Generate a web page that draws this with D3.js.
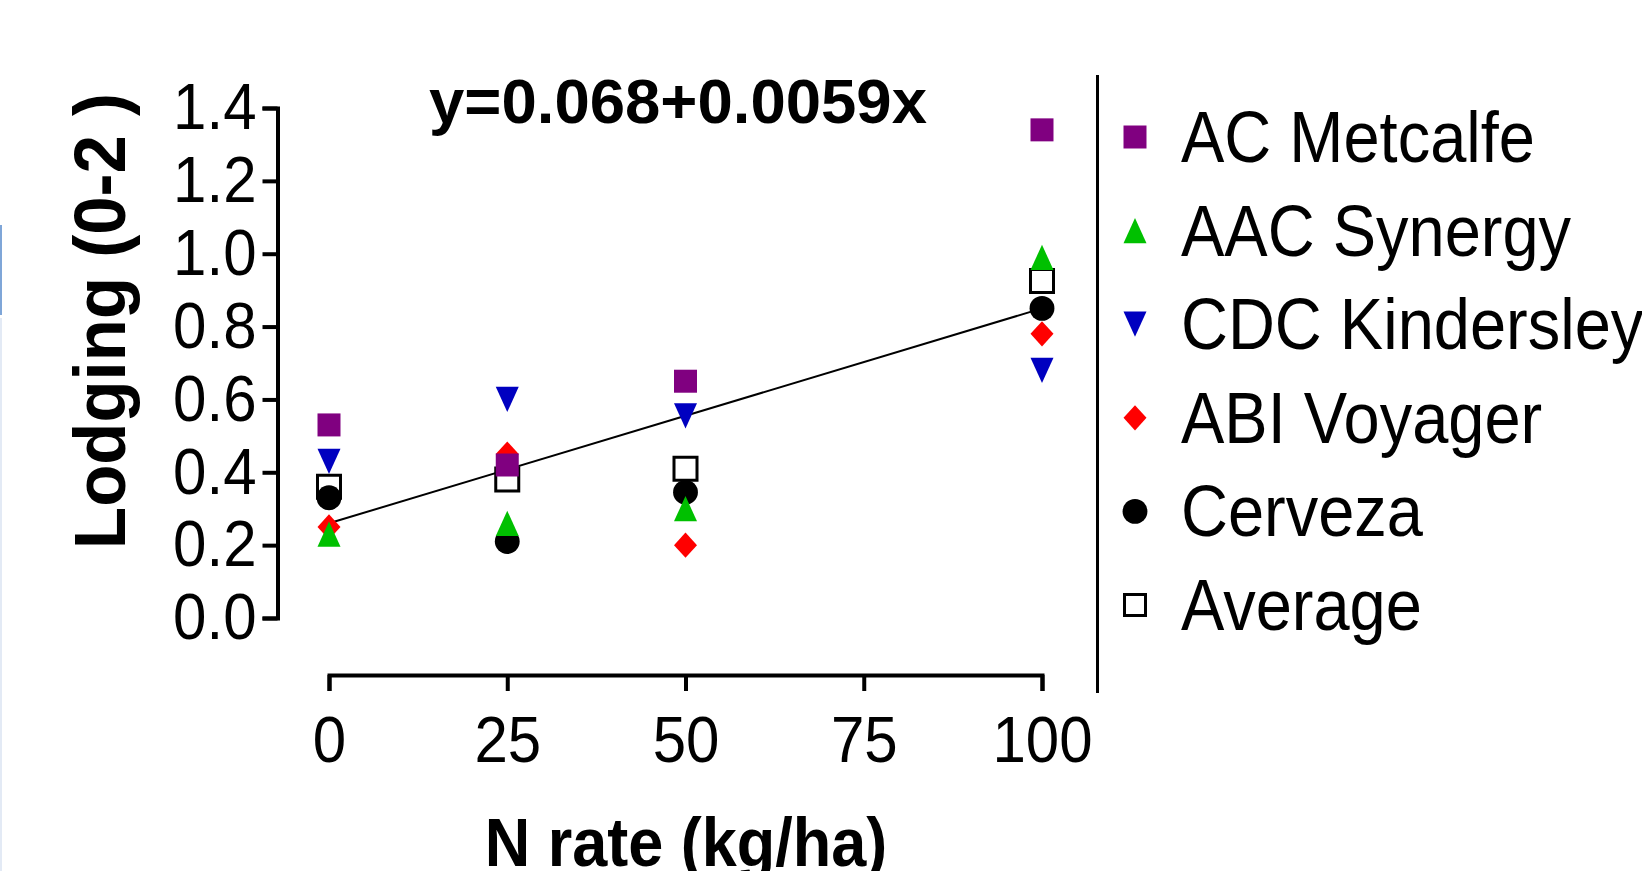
<!DOCTYPE html>
<html>
<head>
<meta charset="utf-8">
<script src="https://cdn.jsdelivr.net/npm/d3@7"></script>
<style>
  html, body { margin: 0; padding: 0; background: #fff; overflow: hidden; }
  svg { display: block; font-family: "Liberation Sans", Arial, sans-serif; }
</style>
</head>
<body>
<svg width="1642" height="871"></svg>
<script>
"use strict";

// N rate (kg/ha)
const nRates = [0, 25, 50, 100];
const xTicks = [0, 25, 50, 75, 100];
const yTicks = [0, 0.2, 0.4, 0.6, 0.8, 1.0, 1.2, 1.4];

// lodging score
const acMetcalfe = [0.53, 0.42, 0.65, 1.34];
const aacSynergy = [0.23, 0.26, 0.30, 0.99];
const cdcKindersley = [0.43, 0.60, 0.555, 0.68];
const abiVoyager = [0.25, 0.45, 0.20, 0.78];
const cerveza = [0.33, 0.21, 0.345, 0.85];
const average = [0.36, 0.38, 0.41, 0.925];

// fitted line ends
const fitLine = [{x: 0, y: 0.26}, {x: 100, y: 0.85}];
const fitLabel = 'y=0.068+0.0059x';

// custom marker shapes, size = width in px
const shapes = {
    square: {draw(ctx, s) { const h = s / 2; ctx.rect(-h, -h, s, s); }},
    up: {draw(ctx, s) { const h = s / 2, v = s * 0.55; ctx.moveTo(0, -v); ctx.lineTo(h, v); ctx.lineTo(-h, v); ctx.closePath(); }},
    down: {draw(ctx, s) { const h = s / 2, v = s * 0.55; ctx.moveTo(0, v); ctx.lineTo(h, -v); ctx.lineTo(-h, -v); ctx.closePath(); }},
    diamond: {draw(ctx, s) { const h = s / 2, v = s * 0.55; ctx.moveTo(0, -v); ctx.lineTo(h, 0); ctx.lineTo(0, v); ctx.lineTo(-h, 0); ctx.closePath(); }},
    circle: {draw(ctx, s) { const r = s * 0.54; ctx.moveTo(r, 0); ctx.arc(0, 0, r, 0, 2 * Math.PI); }}
};

const series = [
    {name: 'AC Metcalfe', values: acMetcalfe, shape: 'square', fill: '#800080', stroke: 'none'},
    {name: 'AAC Synergy', values: aacSynergy, shape: 'up', fill: '#00c000', stroke: 'none'},
    {name: 'CDC Kindersley', values: cdcKindersley, shape: 'down', fill: '#0000c0', stroke: 'none'},
    {name: 'ABI Voyager', values: abiVoyager, shape: 'diamond', fill: '#ff0000', stroke: 'none'},
    {name: 'Cerveza', values: cerveza, shape: 'circle', fill: '#000', stroke: 'none'},
    {name: 'Average', values: average, shape: 'square', fill: '#fff', stroke: '#000'}
];

const svg = d3.select('svg');
const stretch = 1.08;

// faint selection edge on the left
svg.append('rect').attr('x', 0).attr('y', 225).attr('width', 2).attr('height', 90).attr('fill', '#7fa6d8');
svg.append('rect').attr('x', 0).attr('y', 318).attr('width', 2).attr('height', 553).attr('fill', '#e3eaf5');

const x = d3.scaleLinear().domain([0, 100]).range([329, 1042]);
const y = d3.scaleLinear().domain([0, 1.4]).range([618, 108]);

// y axis
const yAxis = svg.append('g')
    .attr('transform', 'translate(277.5,0)')
    .call(d3.axisLeft(y).tickValues(yTicks).tickFormat(d3.format('.1f')).tickSize(15).tickPadding(6));
yAxis.select('.domain').attr('stroke-width', 4);
yAxis.selectAll('.tick line').attr('stroke-width', 4);
yAxis.selectAll('text')
    .attr('font-size', 60)
    .attr('fill', '#000')
    .attr('transform', `scale(1,${stretch})`);

// x axis, sits below the plot
const xAxis = svg.append('g')
    .attr('transform', 'translate(0,675)')
    .call(d3.axisBottom(x).tickValues(xTicks).tickSize(16).tickPadding(22));
xAxis.select('.domain').attr('stroke-width', 4);
xAxis.selectAll('.tick line').attr('stroke-width', 4);
xAxis.selectAll('text')
    .attr('font-size', 60)
    .attr('fill', '#000')
    .attr('transform', `scale(1,${stretch})`);

// axis titles
svg.append('text')
    .attr('transform', `translate(125,321) rotate(-90) scale(1,1.04)`)
    .attr('text-anchor', 'middle')
    .attr('font-size', 69)
    .attr('font-weight', 'bold')
    .text('Lodging (0-2 )');

svg.append('text')
    .attr('transform', `translate(686,866) scale(1,${stretch})`)
    .attr('text-anchor', 'middle')
    .attr('font-size', 63)
    .attr('font-weight', 'bold')
    .text('N rate (kg/ha)');

svg.append('text')
    .attr('x', 678)
    .attr('y', 123)
    .attr('text-anchor', 'middle')
    .attr('font-size', 63.5)
    .attr('font-weight', 'bold')
    .text(fitLabel);

// regression line
svg.append('path')
    .datum(fitLine)
    .attr('fill', 'none')
    .attr('stroke', '#000')
    .attr('stroke-width', 2)
    .attr('d', d3.line().x(d => x(d.x)).y(d => y(d.y)));

const sym = d3.symbol().size(23);

// points, drawn last series first
series.slice().reverse().forEach(s => {
    svg.append('g').selectAll('path')
        .data(s.values)
        .join('path')
        .attr('transform', (d, i) => `translate(${x(nRates[i])},${y(d)})`)
        .attr('d', sym.type(shapes[s.shape])())
        .attr('fill', s.fill)
        .attr('stroke', s.stroke)
        .attr('stroke-width', s.stroke === 'none' ? 0 : 3);
});

// legend
svg.append('line')
    .attr('x1', 1097.5).attr('x2', 1097.5)
    .attr('y1', 75).attr('y2', 693)
    .attr('stroke', '#000')
    .attr('stroke-width', 3);

const ly = d3.scalePoint().domain(series.map(s => s.name)).range([137, 605]);
const legend = svg.append('g').selectAll('g')
    .data(series)
    .join('g')
    .attr('transform', d => `translate(0,${ly(d.name)})`);

legend.append('path')
    .attr('transform', 'translate(1135,0)')
    .attr('d', d => d3.symbol().type(shapes[d.shape]).size(d.stroke === 'none' ? 23 : 21)())
    .attr('fill', d => d.fill)
    .attr('stroke', d => d.stroke)
    .attr('stroke-width', d => d.stroke === 'none' ? 0 : 3);

legend.append('text')
    .attr('transform', `translate(1181,25) scale(1,1.1)`)
    .attr('font-size', 65)
    .attr('fill', '#000')
    .text(d => d.name);
</script>
</body>
</html>
